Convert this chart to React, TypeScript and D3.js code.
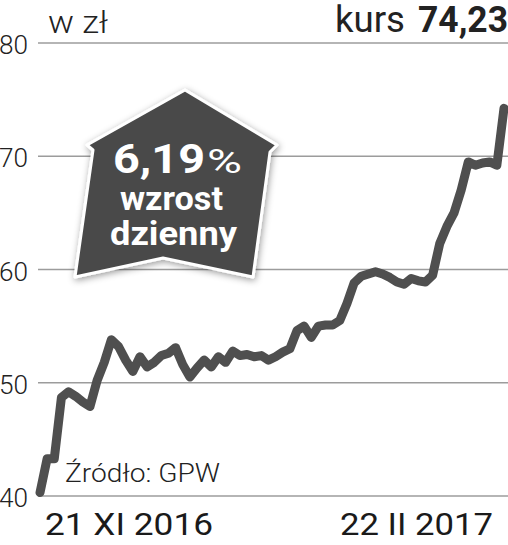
import React from "react";
import * as d3 from "d3";

const prices: number[] = [
  40.3, 43.3, 43.3, 48.7, 49.2, 48.8, 48.3, 47.9, 50.2, 51.8,
  53.8, 53.2, 52.0, 51.0, 52.3, 51.4, 51.8, 52.4, 52.6, 53.1,
  51.6, 50.5, 51.3, 52.0, 51.4, 52.3, 51.8, 52.8, 52.4, 52.5,
  52.3, 52.4, 52.0, 52.3, 52.7, 53.0, 54.6, 55.0, 54.0, 55.0,
  55.1, 55.1, 55.5, 57.0, 58.8, 59.4, 59.6, 59.8, 59.6, 59.3,
  58.9, 58.7, 59.2, 59.0, 58.9, 59.5, 62.3, 63.8, 65.0, 67.0,
  69.5, 69.2, 69.4, 69.5, 69.2, 74.23,
];
const yTicks: number[] = [40, 50, 60, 70, 80];
const xLabels: string[] = ["21 XI 2016", "22 II 2017"];
const unitLabel = "w zł";
const kursLabel = "kurs";
const kursValue = "74,23";
const badgeValue = "6,19";
const badgeLines: string[] = ["wzrost", "dzienny"];
const sourceLabel = "Źródło: GPW";

const W = 508;
const H = 545;
const FONT = "Roboto, 'DejaVu Sans', sans-serif";

export default function App() {
  const x = d3.scaleLinear().domain([0, prices.length - 1]).range([40, 504]);
  const y = d3.scaleLinear().domain([40, 80]).range([496, 43]);
  const line = d3
    .line<number>()
    .x((_, i) => x(i))
    .y((d) => y(d));

  const badgePath =
    "M93,150 L87,145 L185,90 L277,145 L270,152 L253,277 L163,258 L75,277 Z";

  return (
    <svg
      width={W}
      height={H}
      style={{ position: "absolute", left: 0, top: 0, background: "#fff" }}
      fontFamily={FONT}
    >
      <defs>
        <filter id="sh" x="-20%" y="-20%" width="140%" height="140%">
          <feDropShadow dx="1" dy="2" stdDeviation="3.5" floodColor="#000" floodOpacity="0.4" />
        </filter>
      </defs>
      {yTicks.map((t) => (
        <g key={t}>
          <line x1={38} x2={508} y1={y(t)} y2={y(t)} stroke="#9c9c9c" strokeWidth={1.5} />
          <text x={-1} y={y(t) + 11} fontSize={26} fill="#222" fontWeight={300} textLength={29} lengthAdjust="spacingAndGlyphs">
            {t}
          </text>
        </g>
      ))}
      <text x={48} y={33} fontSize={32} fill="#222" fontWeight={300} textLength={60} lengthAdjust="spacingAndGlyphs">
        {unitLabel}
      </text>
      <text x={335} y={32} fontSize={36} fill="#222" textLength={70} lengthAdjust="spacingAndGlyphs">
        {kursLabel}
      </text>
      <text x={418} y={32} fontSize={36} fill="#222" fontWeight={700} textLength={90} lengthAdjust="spacingAndGlyphs">
        {kursValue}
      </text>
      <text x={65} y={482} fontSize={25} fill="#222" fontWeight={300} textLength={155} lengthAdjust="spacingAndGlyphs">
        {sourceLabel}
      </text>
      <path
        d={line(prices) || ""}
        fill="none"
        stroke="#4f4f4f"
        strokeWidth={9}
        strokeLinejoin="round"
        strokeLinecap="round"
      />
      <text x={45} y={535} fontSize={32} fill="#1a1a1a" textLength={168} lengthAdjust="spacingAndGlyphs">
        {xLabels[0]}
      </text>
      <text x={340} y={535} fontSize={32} fill="#1a1a1a" textLength={153} lengthAdjust="spacingAndGlyphs">
        {xLabels[1]}
      </text>
      <path
        d={badgePath}
        fill="#4a4a4a"
        stroke="#fff"
        strokeWidth={3}
        strokeLinejoin="round"
        filter="url(#sh)"
      />
      <text x={113} y={173} fontSize={40} fill="#fff" fontWeight={700} textLength={92} lengthAdjust="spacingAndGlyphs">
        {badgeValue}
      </text>
      <text x={207} y={173} fontSize={34} fill="#fff" fontWeight={400} textLength={35} lengthAdjust="spacingAndGlyphs">
        %
      </text>
      <text x={120} y={210} fontSize={34} fill="#fff" fontWeight={700} textLength={103} lengthAdjust="spacingAndGlyphs">
        {badgeLines[0]}
      </text>
      <text x={110} y={245} fontSize={34} fill="#fff" fontWeight={700} textLength={127} lengthAdjust="spacingAndGlyphs">
        {badgeLines[1]}
      </text>
    </svg>
  );
}
